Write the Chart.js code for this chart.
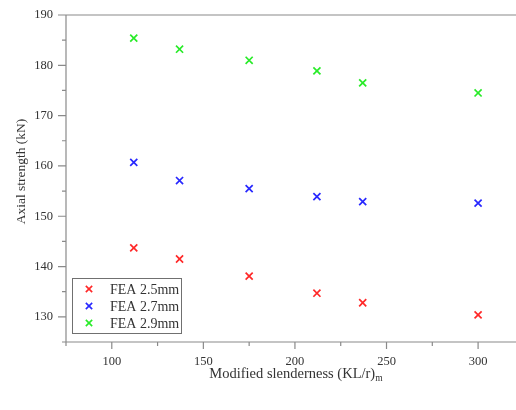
<!DOCTYPE html>
<html>
<head>
<meta charset="utf-8">
<script src="https://cdn.jsdelivr.net/npm/chart.js@4.4.0/dist/chart.umd.min.js"></script>
<style>
  html, body { margin: 0; padding: 0; background: #fff; }
  #wrap { width: 516px; height: 410px; }
</style>
</head>
<body>
<div id="wrap"><canvas id="c" width="516" height="410"></canvas></div>
<script>
// Modified slenderness (KL/r)m of each specimen
const slenderness = [112, 137, 175, 212, 237, 300];
// Axial strength (kN) from FEA, per wall thickness
const fea25 = [143.7, 141.5, 138.1, 134.7, 132.8, 130.4];
const fea27 = [160.7, 157.1, 155.5, 153.9, 152.9, 152.6];
const fea29 = [185.4, 183.2, 181.0, 178.9, 176.5, 174.5];

const seriesLabels = ['FEA 2.5mm', 'FEA 2.7mm', 'FEA 2.9mm'];
const seriesColors = ['rgb(255,40,40)', 'rgb(40,40,255)', 'rgb(40,235,40)'];
const xTickLabels = [100, 150, 200, 250, 300];
const yTickLabels = [130, 140, 150, 160, 170, 180, 190];

const SERIF = '"Liberation Serif", "DejaVu Serif", serif';
const AXIS_COLOR = '#8a8a8a';
const TEXT_COLOR = '#333';

function points(ys) {
  return slenderness.map((x, i) => ({ x: x, y: ys[i] }));
}

const datasets = [fea25, fea27, fea29].map((ys, i) => ({
  label: seriesLabels[i],
  data: points(ys),
  showLine: false,
  pointStyle: 'crossRot',
  pointRadius: 5,
  pointHoverRadius: 5,
  borderWidth: 1.7,
  pointBorderWidth: 1.7,
  borderColor: seriesColors[i],
  backgroundColor: seriesColors[i]
}));

// Axis lines, major/minor tick marks, axis titles and the framed legend
const decorations = {
  id: 'decorations',
  afterDraw(chart) {
    const ctx = chart.ctx;
    const area = chart.chartArea;
    const xs = chart.scales.x, ys = chart.scales.y;
    ctx.save();
    ctx.strokeStyle = AXIS_COLOR;
    ctx.lineWidth = 1.2;
    ctx.beginPath();
    // left axis
    ctx.moveTo(area.left, area.top);
    ctx.lineTo(area.left, area.bottom);
    // bottom axis
    ctx.moveTo(area.left - 3, area.bottom);
    ctx.lineTo(area.right, area.bottom);
    // top frame line
    ctx.moveTo(area.left - 8, area.top);
    ctx.lineTo(area.right, area.top);
    // y ticks
    ys.ticks.forEach(t => {
      const py = ys.getPixelForValue(t.value);
      const len = yTickLabels.includes(t.value) ? 8 : 4;
      ctx.moveTo(area.left - len, py);
      ctx.lineTo(area.left, py);
    });
    // x ticks
    xs.ticks.forEach(t => {
      const px = xs.getPixelForValue(t.value);
      const len = xTickLabels.includes(t.value) ? 7 : 4;
      ctx.moveTo(px, area.bottom);
      ctx.lineTo(px, area.bottom + len);
    });
    ctx.stroke();

    // axis titles
    ctx.fillStyle = TEXT_COLOR;
    ctx.textBaseline = 'alphabetic';
    ctx.font = '14.5px ' + SERIF;
    const main = 'Modified slenderness (KL/r)';
    const wMain = ctx.measureText(main).width;
    ctx.font = '9.5px ' + SERIF;
    const wSub = ctx.measureText('m').width;
    const cx = (xs.getPixelForValue(200) + 1);
    let sx = cx - (wMain + wSub) / 2;
    ctx.font = '14.5px ' + SERIF;
    ctx.textAlign = 'left';
    ctx.fillText(main, sx, 378);
    ctx.font = '9.5px ' + SERIF;
    ctx.fillText('m', sx + wMain, 381);

    ctx.save();
    ctx.translate(25, (area.top + area.bottom) / 2 - 7);
    ctx.rotate(-Math.PI / 2);
    ctx.font = '13.5px ' + SERIF;
    ctx.textAlign = 'center';
    ctx.fillText('Axial strength (kN)', 0, 0);
    ctx.restore();

    // legend box
    const lx = 72, ly = 278, lw = 109, lh = 55;
    ctx.strokeStyle = '#707070';
    ctx.lineWidth = 1;
    ctx.strokeRect(lx + 0.5, ly + 0.5, lw, lh);
    ctx.font = '14px ' + SERIF;
    ctx.textAlign = 'left';
    ctx.textBaseline = 'middle';
    chart.data.datasets.forEach((ds, i) => {
      const cy = ly + 11 + i * 17;
      ctx.strokeStyle = ds.borderColor;
      ctx.fillStyle = ds.borderColor;
      ctx.lineWidth = 1.6;
      Chart.helpers.drawPoint(ctx, { pointStyle: 'crossRot', radius: 4.5, borderWidth: 1.6 }, 89, cy);
      ctx.fillStyle = TEXT_COLOR;
      ctx.fillText(ds.label, 110, cy + 1);
    });
    ctx.restore();
  }
};

new Chart(document.getElementById('c'), {
  type: 'scatter',
  data: { datasets: datasets },
  options: {
    responsive: false,
    animation: false,
    devicePixelRatio: 1,
    layout: { autoPadding: false, padding: { left: 0, right: 0, top: 15, bottom: 0 } },
    plugins: { legend: { display: false }, tooltip: { enabled: false } },
    scales: {
      x: {
        type: 'linear',
        min: 75,
        max: 320.7,
        grid: { display: false, drawTicks: false },
        border: { display: false },
        ticks: {
          stepSize: 25,
          includeBounds: false,
          autoSkip: false,
          maxRotation: 0,
          padding: 12,
          color: TEXT_COLOR,
          font: { family: SERIF, size: 12.5 },
          callback: v => xTickLabels.includes(v) ? String(v) : ''
        },
        afterFit: s => { s.height = 68; s.paddingLeft = 0; s.paddingRight = 0; }
      },
      y: {
        type: 'linear',
        min: 125,
        max: 190,
        grid: { display: false, drawTicks: false },
        border: { display: false },
        ticks: {
          stepSize: 5,
          includeBounds: false,
          autoSkip: false,
          padding: 13,
          color: TEXT_COLOR,
          font: { family: SERIF, size: 12.5 },
          callback: v => yTickLabels.includes(v) ? String(v) : ''
        },
        afterFit: s => { s.width = 66; s.paddingTop = 0; s.paddingBottom = 0; }
      }
    }
  },
  plugins: [decorations]
});
</script>
</body>
</html>
